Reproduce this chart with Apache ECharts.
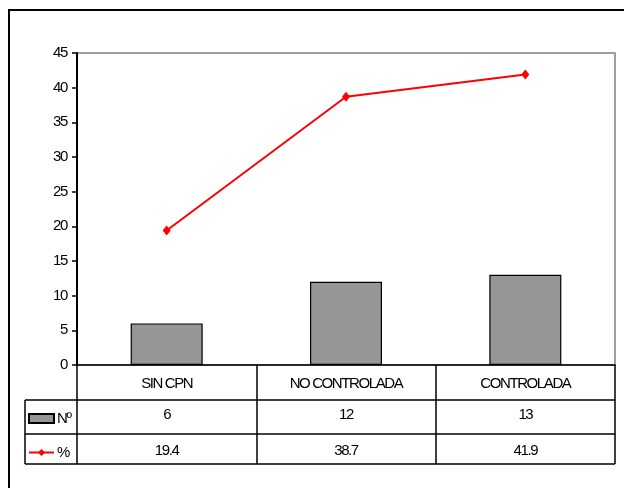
<!DOCTYPE html>
<html><head><meta charset="utf-8">
<script src="https://cdn.jsdelivr.net/npm/echarts@6/dist/echarts.min.js"></script>
<style>html,body{margin:0;padding:0;background:#fff}#c{width:624px;height:488px}</style>
</head><body><div id="c"></div>
<script>
var categories = ['SIN CPN', 'NO CONTROLADA', 'CONTROLADA'];
var countValues = [6, 12, 13];
var pctValues = [19.4, 38.7, 41.9];
var countName = 'Nº';
var pctName = '%';

// condensed text look of the original (tight letter spacing)
(function () {
  var proto = CanvasRenderingContext2D.prototype;
  var origFill = proto.fillText;
  proto.fillText = function () {
    if ('letterSpacing' in this) this.letterSpacing = '-1.4px';
    var r = origFill.apply(this, arguments);
    if ('letterSpacing' in this) this.letterSpacing = '0px';
    return r;
  };
})();

var FONT = '"Liberation Sans", Arial, sans-serif';
var G = {left: 77, right: 9, top: 53, bottom: 123};
var W = 624, H = 488;
var gy = H - G.bottom;           // y of x axis (365)
var gx0 = G.left, gx1 = W - G.right;
var r1 = gy + 35, r2 = gy + 69, r3 = gy + 99;

var chart = echarts.init(document.getElementById('c'), null, {renderer: 'canvas'});
function rowAxis(data, margin) {
  return {
    type: 'category', data: data, position: 'bottom', gridIndex: 0,
    axisLine: {show: false}, axisTick: {show: false}, splitLine: {show: false},
    axisLabel: {margin: margin, verticalAlign: 'middle', color: '#000', fontFamily: FONT, fontSize: 15, interval: 0}
  };
}
function legendAt(name, top, icon) {
  return {
    orient: 'vertical', left: 28, top: top, padding: 0, itemWidth: 25, itemHeight: 9,
    textStyle: {color: '#000', fontFamily: FONT, fontSize: 15, padding: [0, 0, 0, -2]},
    data: [{name: name, icon: icon}]
  };
}
chart.setOption({
  animation: false,
  textStyle: {fontFamily: FONT},
  grid: {left: G.left, right: G.right, top: G.top, bottom: G.bottom, show: true, borderColor: '#808080', borderWidth: 1.5, backgroundColor: '#fff'},
  legend: [legendAt(countName, gy + 46, 'rect'), legendAt(pctName, gy + 80)],
  xAxis: [
    {
      type: 'category', data: categories,
      axisLine: {lineStyle: {color: '#000', width: 1.5}},
      axisTick: {show: true, length: 99, lineStyle: {color: '#000', width: 1.5}},
      axisLabel: {margin: 19, verticalAlign: 'middle', color: '#000', fontFamily: FONT, fontSize: 15, interval: 0}
    },
    rowAxis(countValues.map(String), 50),
    rowAxis(pctValues.map(String), 86)
  ],
  yAxis: {
    type: 'value', min: 0, max: 45, interval: 5,
    axisLine: {show: true, lineStyle: {color: '#000', width: 2}},
    axisTick: {show: true, length: 5, lineStyle: {color: '#000', width: 1.5}},
    splitLine: {show: false},
    axisLabel: {margin: 10, color: '#000', fontFamily: FONT, fontSize: 15}
  },
  series: [
    {
      name: countName, type: 'bar', data: countValues, barWidth: 72,
      itemStyle: {color: '#969696', borderColor: '#000', borderWidth: 1.2}
    },
    {
      name: pctName, type: 'line', data: pctValues, symbol: 'diamond', symbolSize: [8, 10],
      lineStyle: {color: '#ff0000', width: 2}, itemStyle: {color: '#ff0000'}
    }
  ],
  graphic: [
    {type: 'rect', shape: {x: 9, y: 10, width: 800, height: 800}, style: {fill: 'none', stroke: '#000', lineWidth: 2}, silent: true},
    {type: 'line', shape: {x1: 25, y1: r1, x2: gx1, y2: r1}, style: {stroke: '#000', lineWidth: 1.5}},
    {type: 'line', shape: {x1: 25, y1: r2, x2: gx1, y2: r2}, style: {stroke: '#000', lineWidth: 1.5}},
    {type: 'line', shape: {x1: 25, y1: r3, x2: gx1, y2: r3}, style: {stroke: '#000', lineWidth: 1.5}},
    {type: 'line', shape: {x1: 25, y1: r1, x2: 25, y2: r3}, style: {stroke: '#000', lineWidth: 1.5}}
  ]
});
</script></body></html>
